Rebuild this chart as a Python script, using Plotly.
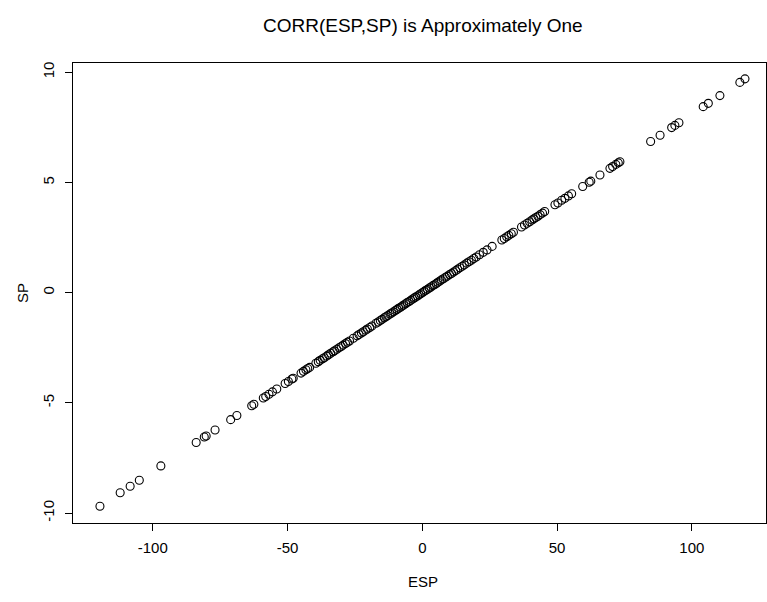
import plotly.graph_objects as go

esp = [-119.6, -112.1, -108.4, -105.0, -97.0, -83.9, -80.9, -80.2, -76.9, -71.1,
       -68.8, -63.3, -62.5, -59.0, -58.1, -56.9, -55.6, -54.0, -50.9, -49.7,
       -48.4, -47.9, -45.0, -44.1, -43.2, -42.5, -41.8, -39.5, -38.6, -37.9,
       -37.0, -36.4, -35.5, -34.8, -34.0, -33.1, -32.6, -31.7, -30.9, -30.1,
       -29.4, -28.5, -27.8, -27.0, -25.6, -24.2, -23.5, -22.6, -21.9, -21.0,
       -20.4, -19.5, -18.7, -17.2, -16.4, -15.6, -14.9, -14.1, -13.5, -12.8,
       -12.0, -11.4, -10.7, -10.0, -9.4, -8.8, -8.1, -7.5, -6.9, -6.2,
       -5.6, -4.9, -4.3, -3.6, -3.0, -2.5, -1.8, -1.2, -0.6, 0.1,
       0.7, 1.3, 1.9, 2.6, 3.2, 3.9, 4.5, 5.2, 5.8, 6.5,
       7.1, 7.8, 8.6, 9.3, 10.1, 10.8, 11.6, 12.4, 13.1, 13.9,
       14.8, 15.6, 16.5, 17.3, 18.2, 19.1, 20.0, 21.2, 22.6, 24.0,
       25.9, 29.5, 30.4, 31.3, 32.1, 33.0, 33.8, 36.8, 37.9, 38.9,
       39.8, 40.7, 41.4, 42.1, 42.9, 43.7, 44.6, 45.4, 49.2, 50.3,
       51.7, 52.9, 54.2, 55.4, 59.5, 61.9, 62.5, 65.9, 69.6, 70.6,
       71.8, 72.7, 73.3, 84.7, 88.2, 92.5, 93.7, 95.2, 104.2, 106.1,
       110.4, 117.8, 119.7]

sp = [-9.69, -9.08, -8.78, -8.51, -7.86, -6.80, -6.55, -6.50, -6.23, -5.76,
      -5.57, -5.13, -5.06, -4.78, -4.71, -4.61, -4.50, -4.37, -4.12, -4.03,
      -3.92, -3.88, -3.65, -3.57, -3.50, -3.44, -3.39, -3.20, -3.13, -3.07,
      -3.00, -2.95, -2.88, -2.82, -2.75, -2.68, -2.64, -2.57, -2.50, -2.44,
      -2.38, -2.31, -2.25, -2.19, -2.07, -1.96, -1.90, -1.83, -1.77, -1.70,
      -1.65, -1.58, -1.51, -1.39, -1.33, -1.26, -1.21, -1.14, -1.09, -1.04,
      -0.97, -0.92, -0.87, -0.81, -0.76, -0.71, -0.66, -0.61, -0.56, -0.50,
      -0.45, -0.40, -0.35, -0.29, -0.24, -0.20, -0.15, -0.10, -0.05, 0.01,
      0.06, 0.11, 0.15, 0.21, 0.26, 0.32, 0.36, 0.42, 0.47, 0.53,
      0.58, 0.63, 0.70, 0.75, 0.82, 0.87, 0.94, 1.00, 1.06, 1.13,
      1.20, 1.26, 1.34, 1.40, 1.47, 1.55, 1.62, 1.72, 1.83, 1.94,
      2.10, 2.39, 2.46, 2.54, 2.60, 2.67, 2.74, 2.98, 3.07, 3.15,
      3.22, 3.30, 3.35, 3.41, 3.47, 3.54, 3.61, 3.68, 3.99, 4.07,
      4.19, 4.28, 4.39, 4.49, 4.82, 5.01, 5.06, 5.34, 5.64, 5.72,
      5.82, 5.89, 5.94, 6.86, 7.14, 7.49, 7.59, 7.71, 8.44, 8.59,
      8.94, 9.54, 9.70]

x_ticks = [-100, -50, 0, 50, 100]
y_ticks = [-10, -5, 0, 5, 10]
x_labels = ["-100", "-50", "0", "50", "100"]
y_labels = ["-10", "-5", "0", "5", "10"]

FONT = "Liberation Sans, Arial, Helvetica, sans-serif"

fig = go.Figure()
fig.add_trace(go.Scatter(
    x=esp, y=sp, mode="markers",
    marker=dict(symbol="circle-open", size=8, color="black", line=dict(width=1.1, color="black")),
    showlegend=False, hoverinfo="x+y",
))

fig.update_layout(
    width=767, height=602,
    margin=dict(l=73, r=1, t=63, b=79),
    paper_bgcolor="white", plot_bgcolor="white",
    font=dict(family=FONT, size=15, color="black"),
    xaxis=dict(
        range=[-129.6, 127.5], tickvals=x_ticks, ticktext=x_labels,
        showgrid=False, zeroline=False, showline=True, mirror=True,
        linecolor="black", linewidth=1, ticks="outside", ticklen=7,
        tickwidth=1, tickcolor="black", tickfont=dict(size=15),
        ticklabelstandoff=4,
    ),
    yaxis=dict(
        range=[-10.45, 10.42], tickvals=y_ticks, ticktext=y_labels,
        showgrid=False, zeroline=False, showline=True, mirror=True,
        linecolor="black", linewidth=1, ticks="outside", ticklen=7,
        tickwidth=1, tickcolor="black", tickangle=-90, tickfont=dict(size=15),
        ticklabelstandoff=5,
    ),
    annotations=[
        dict(text="CORR(ESP,SP) is Approximately One", xref="paper", yref="paper",
             x=0.5, y=1, yshift=38, xshift=3, showarrow=False, font=dict(size=19),
             xanchor="center", yanchor="middle"),
        dict(text="ESP", xref="paper", yref="paper", x=0.5, y=0, yshift=-58, xshift=3,
             showarrow=False, font=dict(size=15), xanchor="center", yanchor="middle"),
        dict(text="SP", xref="paper", yref="paper", x=0, y=0.5, xshift=-51,
             showarrow=False, font=dict(size=15), textangle=-90,
             xanchor="center", yanchor="middle"),
    ],
)

fig.write_html("out.html")
